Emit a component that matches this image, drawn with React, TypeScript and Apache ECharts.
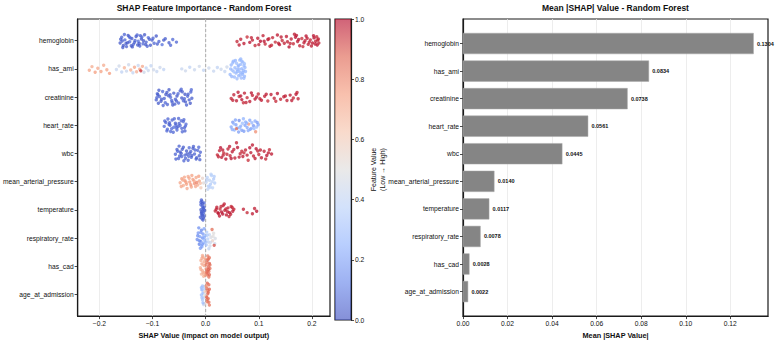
import React, { useEffect, useRef } from "react";
import * as echarts from "echarts";

const FONT = "'Liberation Sans', Arial, Helvetica, sans-serif";

// Features, top to bottom
const features = [
  "hemoglobin",
  "has_ami",
  "creatinine",
  "heart_rate",
  "wbc",
  "mean_arterial_pressure",
  "temperature",
  "respiratory_rate",
  "has_cad",
  "age_at_admission",
];

// Mean |SHAP| per feature
const meanAbsShap = [0.1304, 0.0834, 0.0738, 0.0561, 0.0445, 0.014, 0.0117, 0.0078, 0.0028, 0.0022];

const shapTicks = [-0.2, -0.1, 0, 0.1, 0.2];
const meanTicks = [0, 0.02, 0.04, 0.06, 0.08, 0.1, 0.12];
const colorbarTicks = [0, 0.2, 0.4, 0.6, 0.8, 1.0];

// Beeswarm samples per feature: [shap value, vertical offset within row, normalised feature value]
const hemoglobinPts = [
  [-0.161, 0.08, 0.03], [-0.158, -0.12, 0.05], [-0.155, 0.17, 0.02], [-0.152, -0.03, 0.06], [-0.149, 0.21, 0.04],
  [-0.146, -0.19, 0.01], [-0.143, 0.04, 0.07], [-0.139, -0.08, 0.03], [-0.136, 0.13, 0.05], [-0.131, -0.15, 0.02],
  [-0.127, 0.02, 0.08], [-0.124, 0.19, 0.04], [-0.121, -0.06, 0.03], [-0.118, 0.11, 0.06], [-0.115, -0.21, 0.02],
  [-0.112, 0.05, 0.05], [-0.108, -0.11, 0.07], [-0.104, 0.16, 0.03], [-0.101, -0.02, 0.04], [-0.097, 0.09, 0.06],
  [-0.093, -0.17, 0.02], [-0.088, 0.03, 0.05], [-0.082, 0.14, 0.08], [-0.076, -0.07, 0.04], [-0.069, 0.07, 0.03],
  [-0.062, -0.04, 0.06], [-0.055, 0.05, 0.05], [-0.157, 0.01, 0.04], [-0.15, 0.1, 0.03], [-0.144, -0.14, 0.05],
  [-0.138, 0.22, 0.02], [-0.133, -0.01, 0.06], [-0.128, 0.15, 0.03], [-0.123, -0.18, 0.04], [-0.117, 0.0, 0.02],
  [-0.11, 0.2, 0.05], [-0.106, -0.05, 0.03],
  [-0.16, -0.05, 0.04], [-0.156, 0.24, 0.03], [-0.153, -0.22, 0.05], [-0.147, 0.07, 0.02], [-0.142, -0.1, 0.06],
  [-0.14, 0.18, 0.03], [-0.134, 0.06, 0.04], [-0.129, -0.2, 0.05], [-0.125, 0.1, 0.02], [-0.12, -0.13, 0.06],
  [-0.113, 0.14, 0.03], [-0.099, -0.09, 0.05], [-0.091, 0.12, 0.04], [-0.079, -0.02, 0.03], [-0.066, 0.16, 0.05],
  [0.059, 0.03, 0.96], [0.066, -0.05, 0.97], [0.072, 0.1, 0.98], [0.078, -0.13, 0.95], [0.083, 0.06, 0.99],
  [0.088, -0.02, 0.97], [0.093, 0.17, 0.96], [0.098, -0.09, 0.98], [0.103, 0.02, 1.0], [0.108, -0.18, 0.97],
  [0.112, 0.12, 0.96], [0.117, -0.04, 0.99], [0.121, 0.2, 0.98], [0.126, -0.11, 0.97], [0.131, 0.05, 0.95],
  [0.135, -0.2, 0.98], [0.139, 0.14, 0.99], [0.144, -0.01, 0.96], [0.148, 0.09, 0.97], [0.152, -0.15, 0.98],
  [0.157, 0.22, 1.0], [0.161, -0.06, 0.97], [0.165, 0.11, 0.96], [0.169, -0.12, 0.99], [0.173, 0.03, 0.98],
  [0.177, 0.18, 0.97], [0.181, -0.08, 0.95], [0.185, 0.07, 0.98], [0.189, -0.17, 0.99], [0.193, 0.13, 0.97],
  [0.197, -0.03, 0.96], [0.201, 0.08, 0.98], [0.204, -0.1, 1.0], [0.207, 0.02, 0.97], [0.21, 0.15, 0.99],
  [0.212, -0.06, 0.98], [0.209, -0.14, 0.96], [0.199, 0.19, 0.97], [0.187, 0.0, 0.98], [0.171, -0.19, 0.99],
  [0.154, 0.04, 0.97], [0.137, 0.09, 0.98], [0.119, -0.07, 0.96], [0.1, 0.14, 0.97],
  [0.063, 0.15, 0.98], [0.086, -0.11, 0.97], [0.11, 0.02, 0.99], [0.124, 0.16, 0.96], [0.142, -0.13, 0.98],
  [0.159, 0.1, 0.97], [0.175, -0.04, 0.99], [0.183, 0.21, 0.96], [0.191, -0.09, 0.98], [0.195, 0.05, 0.97],
  [0.203, -0.18, 0.99], [0.206, 0.12, 0.98], [0.211, -0.02, 0.96], [0.213, 0.08, 0.97], [0.167, -0.23, 0.98],
];

const hasAmiPts = [
  [-0.219, 0.05, 0.72], [-0.214, -0.08, 0.7], [-0.208, 0.12, 0.74], [-0.203, -0.02, 0.71], [-0.197, 0.09, 0.73],
  [-0.192, -0.13, 0.7], [-0.186, 0.03, 0.72], [-0.181, 0.16, 0.75],
  [-0.168, 0.02, 0.42], [-0.163, -0.1, 0.45], [-0.158, 0.11, 0.4], [-0.153, -0.04, 0.68], [-0.149, 0.08, 0.43],
  [-0.145, -0.15, 0.44], [-0.141, 0.04, 0.7], [-0.137, 0.14, 0.41], [-0.134, -0.06, 0.72], [-0.13, 0.1, 0.69],
  [-0.127, -0.12, 0.42], [-0.124, 0.01, 0.74], [-0.122, 0.07, 0.95], [-0.119, -0.09, 0.71], [-0.116, 0.12, 0.44],
  [-0.112, -0.03, 0.4], [-0.108, 0.06, 0.43], [-0.103, -0.11, 0.41], [-0.098, 0.03, 0.45], [-0.092, 0.09, 0.42],
  [-0.086, -0.05, 0.44], [-0.079, 0.02, 0.4],
  [-0.045, 0.0, 0.42], [-0.038, 0.07, 0.44], [-0.03, -0.06, 0.4], [-0.021, 0.03, 0.43], [-0.012, -0.09, 0.45],
  [-0.004, 0.05, 0.41], [0.006, -0.03, 0.44], [0.015, 0.08, 0.42], [0.022, -0.05, 0.4], [0.029, 0.01, 0.43],
  [0.036, 0.09, 0.41], [0.04, -0.07, 0.44],
  [0.046, 0.2, 0.28], [0.048, -0.14, 0.27], [0.05, 0.05, 0.3], [0.052, -0.27, 0.26], [0.054, 0.29, 0.29],
  [0.055, -0.04, 0.28], [0.057, 0.15, 0.27], [0.058, -0.2, 0.3], [0.06, 0.09, 0.26], [0.061, -0.09, 0.29],
  [0.062, 0.24, 0.28], [0.063, 0.01, 0.27], [0.064, -0.31, 0.3], [0.065, 0.12, 0.26], [0.066, -0.16, 0.28],
  [0.067, 0.32, 0.29], [0.068, -0.01, 0.27], [0.069, 0.19, 0.28], [0.07, -0.24, 0.3], [0.071, 0.06, 0.26],
  [0.072, -0.11, 0.29], [0.073, 0.26, 0.27], [0.074, -0.05, 0.28], [0.059, 0.35, 0.29], [0.066, -0.35, 0.27],
  [0.047, 0.0, 0.29], [0.049, 0.27, 0.27], [0.051, -0.22, 0.28], [0.053, 0.1, 0.3], [0.056, -0.3, 0.26],
  [0.059, 0.02, 0.28], [0.062, -0.13, 0.27], [0.065, 0.22, 0.29], [0.068, -0.27, 0.28], [0.07, 0.14, 0.26],
  [0.072, 0.33, 0.28], [0.073, -0.18, 0.3], [0.075, 0.09, 0.27],
];

const creatininePts = [
  [-0.093, 0.1, 0.04], [-0.091, -0.12, 0.06], [-0.089, 0.22, 0.03], [-0.087, -0.02, 0.05], [-0.084, 0.15, 0.02],
  [-0.081, -0.2, 0.06], [-0.078, 0.05, 0.04], [-0.075, -0.09, 0.03], [-0.072, 0.26, 0.05], [-0.069, -0.26, 0.02],
  [-0.066, 0.01, 0.06], [-0.063, 0.18, 0.04], [-0.06, -0.14, 0.03], [-0.057, 0.08, 0.05], [-0.054, -0.04, 0.02],
  [-0.051, 0.21, 0.06], [-0.048, -0.22, 0.04], [-0.045, 0.03, 0.03], [-0.042, 0.13, 0.05], [-0.039, -0.1, 0.02],
  [-0.036, 0.28, 0.04], [-0.034, -0.03, 0.06], [-0.031, 0.1, 0.03], [-0.028, -0.18, 0.05], [-0.026, 0.04, 0.04],
  [-0.08, 0.3, 0.05], [-0.07, -0.05, 0.03], [-0.058, 0.25, 0.04], [-0.046, -0.28, 0.05], [-0.038, 0.17, 0.02],
  [-0.09, -0.08, 0.03], [-0.064, 0.12, 0.06],
  [-0.092, 0.02, 0.05], [-0.088, -0.24, 0.03], [-0.083, 0.08, 0.04], [-0.076, 0.2, 0.06], [-0.073, -0.16, 0.02],
  [-0.067, -0.08, 0.05], [-0.062, 0.28, 0.03], [-0.055, 0.14, 0.04], [-0.052, -0.12, 0.06], [-0.044, -0.19, 0.03],
  [-0.04, 0.06, 0.05], [-0.033, -0.1, 0.04], [-0.029, 0.22, 0.02], [-0.027, -0.26, 0.06],
  [0.048, 0.05, 0.96], [0.053, -0.08, 0.97], [0.058, 0.13, 0.98], [0.063, -0.02, 0.95], [0.068, 0.09, 0.99],
  [0.073, -0.14, 0.97], [0.078, 0.02, 0.96], [0.083, 0.16, 0.98], [0.088, -0.06, 0.97], [0.093, 0.07, 0.99],
  [0.099, -0.11, 0.96], [0.105, 0.11, 0.98], [0.111, -0.03, 0.97], [0.117, 0.14, 0.95], [0.123, -0.09, 0.98],
  [0.129, 0.04, 0.97], [0.135, -0.13, 0.99], [0.141, 0.08, 0.96], [0.147, -0.01, 0.98], [0.153, 0.12, 0.97],
  [0.159, -0.07, 0.98], [0.165, 0.03, 0.96], [0.17, -0.1, 0.99], [0.174, 0.06, 0.97], [0.061, -0.17, 0.98],
  [0.076, 0.19, 0.97], [0.096, 0.0, 0.98],
  [0.051, 0.11, 0.97], [0.066, -0.04, 0.98], [0.071, 0.2, 0.96], [0.086, -0.15, 0.99], [0.102, 0.06, 0.97],
  [0.114, -0.1, 0.98], [0.132, 0.15, 0.96], [0.15, -0.04, 0.97], [0.162, 0.12, 0.98], [0.172, -0.16, 0.97],
];

const heartRatePts = [
  [-0.078, 0.04, 0.06], [-0.075, -0.1, 0.05], [-0.072, 0.14, 0.07], [-0.069, -0.03, 0.04], [-0.066, 0.22, 0.06],
  [-0.063, -0.19, 0.05], [-0.06, 0.07, 0.08], [-0.057, -0.07, 0.04], [-0.054, 0.17, 0.06], [-0.051, -0.24, 0.05],
  [-0.048, 0.01, 0.07], [-0.045, 0.11, 0.05], [-0.042, -0.13, 0.06], [-0.039, 0.2, 0.04], [-0.037, -0.04, 0.07],
  [-0.071, -0.22, 0.05], [-0.061, 0.25, 0.06], [-0.052, 0.05, 0.04], [-0.046, -0.16, 0.06], [-0.04, 0.09, 0.05],
  [-0.067, 0.0, 0.06], [-0.056, -0.01, 0.05],
  [-0.077, -0.15, 0.05], [-0.073, 0.2, 0.06], [-0.068, -0.09, 0.04], [-0.064, 0.12, 0.07], [-0.059, -0.23, 0.05],
  [-0.055, 0.09, 0.06], [-0.05, -0.06, 0.04], [-0.044, 0.23, 0.06], [-0.041, -0.2, 0.05], [-0.038, 0.03, 0.07],
  [0.048, 0.06, 0.22], [0.051, -0.11, 0.18], [0.054, 0.17, 0.25], [0.057, -0.02, 0.2], [0.06, 0.1, 0.28],
  [0.063, -0.17, 0.15], [0.066, 0.03, 0.24], [0.069, -0.07, 0.3], [0.072, 0.21, 0.19], [0.075, -0.12, 0.26],
  [0.078, 0.08, 0.22], [0.081, -0.04, 0.75], [0.084, 0.14, 0.21], [0.087, -0.09, 0.27], [0.09, 0.02, 0.18],
  [0.093, -0.15, 0.24], [0.096, 0.06, 0.29], [0.099, -0.02, 0.23], [0.062, 0.24, 0.2], [0.071, -0.23, 0.26],
  [0.08, 0.19, 0.22], [0.058, 0.12, 0.85], [0.053, -0.05, 0.27], [0.074, 0.0, 0.21], [0.086, 0.11, 0.25],
  [0.094, 0.23, 0.78],
  [0.05, 0.15, 0.24], [0.056, -0.19, 0.21], [0.064, 0.09, 0.27], [0.068, 0.18, 0.2], [0.077, -0.08, 0.25],
  [0.083, -0.18, 0.22], [0.091, 0.12, 0.28], [0.097, -0.1, 0.19],
];

const wbcPts = [
  [-0.057, 0.03, 0.05], [-0.054, -0.14, 0.04], [-0.051, 0.18, 0.06], [-0.048, -0.05, 0.03], [-0.045, 0.11, 0.05],
  [-0.042, -0.22, 0.04], [-0.039, 0.06, 0.06], [-0.036, -0.09, 0.03], [-0.033, 0.24, 0.05], [-0.03, -0.01, 0.04],
  [-0.027, 0.14, 0.06], [-0.024, -0.18, 0.03], [-0.021, 0.02, 0.05], [-0.018, 0.2, 0.04], [-0.015, -0.11, 0.06],
  [-0.012, 0.08, 0.03], [-0.01, -0.04, 0.05], [-0.05, -0.26, 0.04], [-0.041, 0.26, 0.05], [-0.032, 0.1, 0.06],
  [-0.023, -0.25, 0.04], [-0.046, 0.0, 0.03], [-0.028, -0.07, 0.05],
  [-0.056, 0.2, 0.04], [-0.053, -0.08, 0.06], [-0.049, 0.09, 0.05], [-0.044, -0.15, 0.03], [-0.038, 0.17, 0.05],
  [-0.035, 0.02, 0.04], [-0.031, -0.2, 0.06], [-0.026, 0.07, 0.03], [-0.02, -0.12, 0.05], [-0.017, 0.15, 0.04],
  [-0.013, -0.22, 0.06], [-0.011, 0.22, 0.04],
  [0.022, 0.05, 0.96], [0.026, -0.1, 0.97], [0.03, 0.14, 0.98], [0.034, -0.02, 0.95], [0.038, 0.2, 0.99],
  [0.042, -0.16, 0.97], [0.046, 0.08, 0.96], [0.05, -0.06, 0.98], [0.055, 0.16, 0.97], [0.06, -0.21, 0.99],
  [0.065, 0.01, 0.96], [0.07, 0.11, 0.98], [0.075, -0.12, 0.97], [0.08, 0.24, 0.95], [0.085, -0.03, 0.98],
  [0.09, 0.09, 0.97], [0.095, -0.17, 0.99], [0.1, 0.04, 0.96], [0.105, 0.15, 0.98], [0.11, -0.08, 0.97],
  [0.115, 0.07, 0.99], [0.12, -0.13, 0.96], [0.124, 0.02, 0.98], [0.033, 0.06, 0.97], [0.045, -0.25, 0.98],
  [0.058, -0.38, 0.97], [0.072, -0.02, 0.96], [0.088, -0.3, 0.98], [0.098, -0.09, 0.97], [0.028, -0.2, 0.99],
  [0.024, 0.12, 0.97], [0.032, -0.12, 0.98], [0.04, 0.03, 0.96], [0.048, 0.18, 0.99], [0.053, -0.14, 0.97],
  [0.063, 0.13, 0.98], [0.068, -0.08, 0.96], [0.078, 0.06, 0.97], [0.083, -0.2, 0.99], [0.093, 0.18, 0.98],
  [0.103, -0.12, 0.97], [0.113, 0.2, 0.96], [0.118, -0.02, 0.98],
];

const meanArterialPressurePts = [
  [-0.048, 0.04, 0.72], [-0.045, -0.1, 0.74], [-0.042, 0.14, 0.7], [-0.039, -0.03, 0.76], [-0.036, 0.09, 0.73],
  [-0.033, -0.18, 0.71], [-0.03, 0.01, 0.75], [-0.027, 0.19, 0.72], [-0.024, -0.08, 0.74], [-0.021, 0.07, 0.78],
  [-0.018, -0.15, 0.72], [-0.015, 0.12, 0.7], [-0.012, -0.02, 0.73], [-0.009, 0.22, 0.6], [-0.006, -0.12, 0.55],
  [-0.004, 0.05, 0.52], [-0.035, 0.24, 0.71], [-0.026, -0.22, 0.73], [-0.017, 0.03, 0.8], [-0.04, -0.16, 0.72],
  [-0.046, 0.17, 0.73], [-0.043, -0.06, 0.71], [-0.037, 0.02, 0.74], [-0.031, -0.12, 0.72], [-0.028, 0.11, 0.76],
  [-0.022, -0.02, 0.73], [-0.019, 0.17, 0.71], [-0.013, -0.19, 0.74], [-0.01, 0.06, 0.65],
  [0.001, 0.02, 0.42], [0.003, -0.15, 0.38], [0.005, 0.16, 0.36], [0.007, -0.05, 0.4], [0.009, 0.09, 0.35],
  [0.011, -0.22, 0.37], [0.013, 0.22, 0.39], [0.015, -0.09, 0.34], [0.017, 0.05, 0.36], [0.004, 0.27, 0.41],
  [0.01, -0.26, 0.38], [0.002, -0.07, 0.4], [0.008, 0.2, 0.37], [0.012, 0.0, 0.39], [0.016, -0.18, 0.35],
];

const temperaturePts = [
  [-0.01, 0.26, 0.04], [-0.009, -0.18, 0.05], [-0.008, 0.08, 0.03], [-0.007, -0.3, 0.06], [-0.006, 0.18, 0.04],
  [-0.005, -0.06, 0.05], [-0.004, 0.29, 0.03], [-0.003, -0.24, 0.06], [-0.002, 0.02, 0.04], [-0.006, -0.12, 0.05],
  [-0.008, 0.13, 0.03], [-0.004, -0.02, 0.06], [-0.003, 0.22, 0.04], [-0.009, -0.27, 0.05], [-0.005, 0.05, 0.04],
  [-0.007, 0.32, 0.05], [-0.009, 0.0, 0.04], [-0.007, 0.2, 0.05], [-0.006, -0.22, 0.03], [-0.004, 0.11, 0.06],
  [-0.003, -0.1, 0.04], [-0.008, -0.35, 0.05], [-0.005, 0.36, 0.04],
  [0.018, 0.04, 0.96], [0.021, -0.09, 0.97], [0.024, 0.13, 0.98], [0.027, -0.03, 0.95], [0.03, 0.08, 0.99],
  [0.033, -0.15, 0.97], [0.036, 0.02, 0.96], [0.039, 0.18, 0.98], [0.042, -0.07, 0.97], [0.045, 0.1, 0.99],
  [0.048, -0.12, 0.96], [0.051, 0.05, 0.98], [0.053, -0.02, 0.97], [0.026, 0.22, 0.98], [0.035, -0.21, 0.97],
  [0.044, 0.24, 0.96], [0.02, -0.02, 0.97], [0.023, 0.1, 0.98], [0.029, -0.12, 0.96], [0.032, 0.15, 0.99],
  [0.038, -0.03, 0.97], [0.041, 0.07, 0.98], [0.047, 0.16, 0.97], [0.05, -0.08, 0.96],
  [0.071, -0.02, 0.97], [0.078, 0.1, 0.96], [0.088, 0.14, 0.98], [0.092, -0.05, 0.97], [0.096, 0.05, 0.99],
];

const respiratoryRatePts = [
  [-0.016, 0.05, 0.15], [-0.014, -0.18, 0.18], [-0.012, 0.22, 0.12], [-0.011, -0.05, 0.2], [-0.009, 0.12, 0.16],
  [-0.008, -0.28, 0.14], [-0.007, 0.31, 0.22], [-0.006, 0.0, 0.17], [-0.005, -0.14, 0.19], [-0.004, 0.18, 0.25],
  [-0.003, -0.33, 0.21], [-0.002, 0.07, 0.28], [-0.001, -0.08, 0.3], [0.001, 0.25, 0.33], [0.002, -0.21, 0.36],
  [0.004, 0.03, 0.38], [0.005, 0.14, 0.4], [0.007, -0.12, 0.42], [0.008, 0.28, 0.45], [0.01, -0.03, 0.48],
  [0.012, -0.3, 0.85], [0.013, 0.1, 0.55], [0.015, -0.17, 0.5], [0.017, 0.2, 0.44], [0.018, 0.02, 0.47],
  [-0.013, -0.36, 0.16], [-0.01, 0.36, 0.19], [0.016, 0.26, 0.9], [0.006, 0.38, 0.4], [-0.008, 0.27, 0.24],
  [-0.015, -0.08, 0.16], [-0.012, 0.1, 0.14], [-0.009, -0.2, 0.18], [-0.006, 0.22, 0.2], [-0.003, -0.02, 0.24],
  [0.0, 0.14, 0.3], [0.003, -0.1, 0.35], [0.009, 0.16, 0.44], [0.014, -0.06, 0.5],
];

const hasCadPts = [
  [-0.01, 0.05, 0.68], [-0.009, -0.2, 0.7], [-0.008, 0.28, 0.66], [-0.007, -0.08, 0.72], [-0.006, 0.16, 0.69],
  [-0.005, -0.33, 0.71], [-0.004, 0.36, 0.67], [-0.003, -0.02, 0.73], [-0.002, 0.22, 0.7], [-0.001, -0.26, 0.75],
  [0.001, 0.1, 0.8], [0.002, -0.14, 0.83], [0.003, 0.3, 0.85], [0.004, -0.36, 0.82], [0.005, 0.02, 0.86],
  [0.006, 0.19, 0.84], [0.007, -0.1, 0.88], [0.008, 0.08, 0.85], [0.004, -0.22, 0.87], [0.006, 0.38, 0.83],
  [-0.006, -0.38, 0.69], [0.002, 0.24, 0.86], [0.007, -0.3, 0.84], [0.005, 0.12, 0.88],
  [-0.009, 0.12, 0.69], [-0.007, -0.28, 0.71], [-0.005, 0.24, 0.7], [-0.003, -0.16, 0.72], [-0.001, 0.32, 0.74],
  [0.001, -0.06, 0.82], [0.003, 0.18, 0.86], [0.005, -0.26, 0.84], [0.007, 0.3, 0.87], [0.008, -0.04, 0.85],
];

const ageAtAdmissionPts = [
  [-0.008, 0.02, 0.3], [-0.007, -0.16, 0.25], [-0.006, 0.2, 0.35], [-0.005, -0.05, 0.28], [-0.004, 0.12, 0.4],
  [-0.003, -0.28, 0.45], [-0.002, 0.33, 0.55], [-0.001, -0.1, 0.6], [0.001, 0.07, 0.8], [0.002, -0.22, 0.85],
  [0.003, 0.26, 0.82], [0.004, -0.02, 0.88], [0.005, 0.15, 0.84], [0.006, -0.34, 0.86], [0.007, 0.38, 0.83],
  [0.003, -0.4, 0.87], [-0.006, -0.3, 0.32], [-0.004, 0.36, 0.42], [0.002, 0.1, 0.86], [0.004, -0.14, 0.84],
  [-0.008, -0.24, 0.28], [-0.007, 0.12, 0.32], [-0.005, 0.3, 0.3], [-0.004, -0.2, 0.35], [-0.002, 0.02, 0.5],
  [0.001, -0.3, 0.78], [0.003, 0.18, 0.85], [0.005, -0.08, 0.86], [0.006, 0.28, 0.84], [0.007, -0.18, 0.87],
];

const beeswarmRows = [
  hemoglobinPts,
  hasAmiPts,
  creatininePts,
  heartRatePts,
  wbcPts,
  meanArterialPressurePts,
  temperaturePts,
  respiratoryRatePts,
  hasCadPts,
  ageAtAdmissionPts,
];

// matplotlib "coolwarm"
const coolwarm = ["#3b4cc0", "#6282ea", "#8db0fe", "#b8d0f9", "#dddcdc", "#f5c4ac", "#f49a7b", "#de604d", "#b40426"];

const rowIndices = features.map((_, i) => i);
const AXIS_COLOR = "#1a1a1a";
const GRID_LINE = "#e8e8e8";
const minus = (s: string) => s.replace("-", "\u2212");

function buildOption() {
  const scatterData = beeswarmRows.flatMap((pts, row) => pts.map(([s, dy, v]) => [s, row + dy, v]));

  const tickLabel = { fontSize: 6.7, color: "#111", fontFamily: FONT };
  const axisNameStyle = { fontSize: 7.3, fontWeight: "bold" as const, color: "#111", fontFamily: FONT };

  return {
    animation: false,
    backgroundColor: "#fff",
    textStyle: { fontFamily: FONT, color: "#111" },
    graphic: [
      {
        type: "text",
        x: 204,
        y: 7.5,
        style: {
          text: "SHAP Feature Importance - Random Forest",
          fontSize: 8.5,
          fontWeight: "bold",
          fill: "#111",
          fontFamily: FONT,
          align: "center",
          verticalAlign: "middle",
        },
      },
      {
        type: "text",
        x: 615.5,
        y: 7.5,
        style: {
          text: "Mean |SHAP| Value - Random Forest",
          fontSize: 8.5,
          fontWeight: "bold",
          fill: "#111",
          fontFamily: FONT,
          align: "center",
          verticalAlign: "middle",
        },
      },
    ],
    grid: [
      { left: 77, top: 19, width: 253, height: 301, show: true, borderColor: AXIS_COLOR, borderWidth: 1.2, backgroundColor: "#fff" },
      { left: 463, top: 19, width: 305, height: 300, show: true, borderColor: AXIS_COLOR, borderWidth: 1.2, backgroundColor: "#fff" },
      { left: 335, top: 19, width: 16, height: 301, show: true, borderColor: AXIS_COLOR, borderWidth: 1.2 },
    ],
    visualMap: [
      {
        type: "continuous",
        show: false,
        min: 0,
        max: 1,
        dimension: 2,
        seriesIndex: 0,
        inRange: { color: coolwarm },
      },
    ],
    xAxis: [
      {
        gridIndex: 0,
        type: "value",
        min: -0.241,
        max: 0.234,
        splitNumber: 5,
        name: "SHAP Value (impact on model output)",
        nameLocation: "middle",
        nameGap: 13,
        nameTextStyle: axisNameStyle,
        axisLine: { show: true, onZero: false, lineStyle: { color: AXIS_COLOR, width: 1.2 } },
        axisTick: { show: true, length: 3, customValues: shapTicks, lineStyle: { color: AXIS_COLOR, width: 0.8 } },
        axisLabel: { ...tickLabel, margin: 4, customValues: shapTicks, formatter: (v: number) => minus(v.toFixed(1)) },
        splitLine: { show: true, lineStyle: { color: GRID_LINE, width: 0.8 } },
      },
      {
        gridIndex: 1,
        type: "value",
        min: 0,
        max: 0.13692,
        interval: 0.02,
        name: "Mean |SHAP Value|",
        nameLocation: "middle",
        nameGap: 13,
        nameTextStyle: axisNameStyle,
        axisLine: { show: true, onZero: false, lineStyle: { color: AXIS_COLOR, width: 1.2 } },
        axisTick: { show: true, length: 3, customValues: meanTicks, lineStyle: { color: AXIS_COLOR, width: 0.8 } },
        axisLabel: { ...tickLabel, margin: 4, customValues: meanTicks, formatter: (v: number) => v.toFixed(2) },
        splitLine: { show: true, lineStyle: { color: GRID_LINE, width: 0.8 } },
      },
      {
        gridIndex: 2,
        type: "value",
        min: 0,
        max: 1,
        show: false,
      },
    ],
    yAxis: [
      {
        gridIndex: 0,
        type: "value",
        min: -0.77,
        max: 9.77,
        inverse: true,
        axisLine: { show: true, onZero: false, lineStyle: { color: AXIS_COLOR, width: 1.2 } },
        axisTick: { show: true, length: 3, customValues: rowIndices, lineStyle: { color: AXIS_COLOR, width: 0.8 } },
        axisLabel: { ...tickLabel, margin: 4, customValues: rowIndices, formatter: (v: number) => features[Math.round(v)] },
        splitLine: { show: false },
      },
      {
        gridIndex: 1,
        type: "value",
        min: -0.89,
        max: 9.89,
        inverse: true,
        axisLine: { show: true, onZero: false, lineStyle: { color: AXIS_COLOR, width: 1.2 } },
        axisTick: { show: true, length: 3, customValues: rowIndices, lineStyle: { color: AXIS_COLOR, width: 0.8 } },
        axisLabel: { ...tickLabel, margin: 4, customValues: rowIndices, formatter: (v: number) => features[Math.round(v)] },
        splitLine: { show: false },
      },
      {
        gridIndex: 2,
        type: "value",
        min: 0,
        max: 1,
        interval: 0.2,
        position: "right",
        name: "Feature Value\n(Low \u2192 High)",
        nameLocation: "middle",
        nameRotate: 90,
        nameGap: 18,
        nameTextStyle: { fontSize: 7, color: "#111", fontFamily: FONT, lineHeight: 9 },
        axisLine: { show: true, onZero: false, lineStyle: { color: AXIS_COLOR, width: 1.2 } },
        axisTick: { show: true, length: 3, customValues: colorbarTicks, lineStyle: { color: AXIS_COLOR, width: 0.8 } },
        axisLabel: { ...tickLabel, margin: 4, customValues: colorbarTicks, formatter: (v: number) => v.toFixed(1) },
        splitLine: { show: false },
      },
    ],
    series: [
      {
        type: "scatter",
        xAxisIndex: 0,
        yAxisIndex: 0,
        data: scatterData,
        symbolSize: 3.4,
        itemStyle: { opacity: 0.75 },
        z: 3,
      },
      {
        // zero reference line
        type: "line",
        xAxisIndex: 0,
        yAxisIndex: 0,
        data: [
          [0, -0.77],
          [0, 9.77],
        ],
        symbol: "none",
        lineStyle: { color: "#9a9a9a", width: 0.8, type: [3, 2] },
        z: 2,
        silent: true,
      },
      {
        type: "custom",
        xAxisIndex: 1,
        yAxisIndex: 1,
        data: meanAbsShap.map((v, i) => [v, i]),
        encode: { x: 0, y: 1 },
        renderItem: (_params: any, api: any) => {
          const v = api.value(0);
          const i = api.value(1);
          const start = api.coord([0, i]);
          const end = api.coord([v, i]);
          const h = Math.abs(api.size([0, 0.75])[1]);
          return {
            type: "group",
            children: [
              {
                type: "rect",
                shape: { x: start[0], y: start[1] - h / 2, width: end[0] - start[0], height: h },
                style: { fill: "#858585", stroke: "#a8a8a8", lineWidth: 0.5 },
              },
              {
                type: "text",
                x: end[0] + 3.5,
                y: end[1],
                style: {
                  text: v.toFixed(4),
                  fontSize: 5.5,
                  fontWeight: "bold",
                  fill: "#111",
                  fontFamily: FONT,
                  align: "left",
                  verticalAlign: "middle",
                },
              },
            ],
          };
        },
      },
      {
        // colour bar
        type: "custom",
        xAxisIndex: 2,
        yAxisIndex: 2,
        data: [[0, 0]],
        renderItem: (_params: any, api: any) => {
          const tl = api.coord([0, 1]);
          const br = api.coord([1, 0]);
          const stops = coolwarm
            .map((c, k) => ({ offset: 1 - k / (coolwarm.length - 1), color: c }))
            .reverse();
          return {
            type: "rect",
            shape: { x: tl[0], y: tl[1], width: br[0] - tl[0], height: br[1] - tl[1] },
            style: { fill: new echarts.graphic.LinearGradient(0, 0, 0, 1, stops), opacity: 0.62 },
          };
        },
        z: 1,
      },
    ],
  };
}

export default function App() {
  const ref = useRef<HTMLDivElement>(null);

  useEffect(() => {
    if (!ref.current) return;
    const chart = echarts.init(ref.current, undefined, { renderer: "svg" });
    chart.setOption(buildOption() as any);
    return () => chart.dispose();
  }, []);

  return (
    <div
      ref={ref}
      style={{ position: "absolute", left: 0, top: 0, width: 780, height: 344, background: "#fff" }}
    />
  );
}
